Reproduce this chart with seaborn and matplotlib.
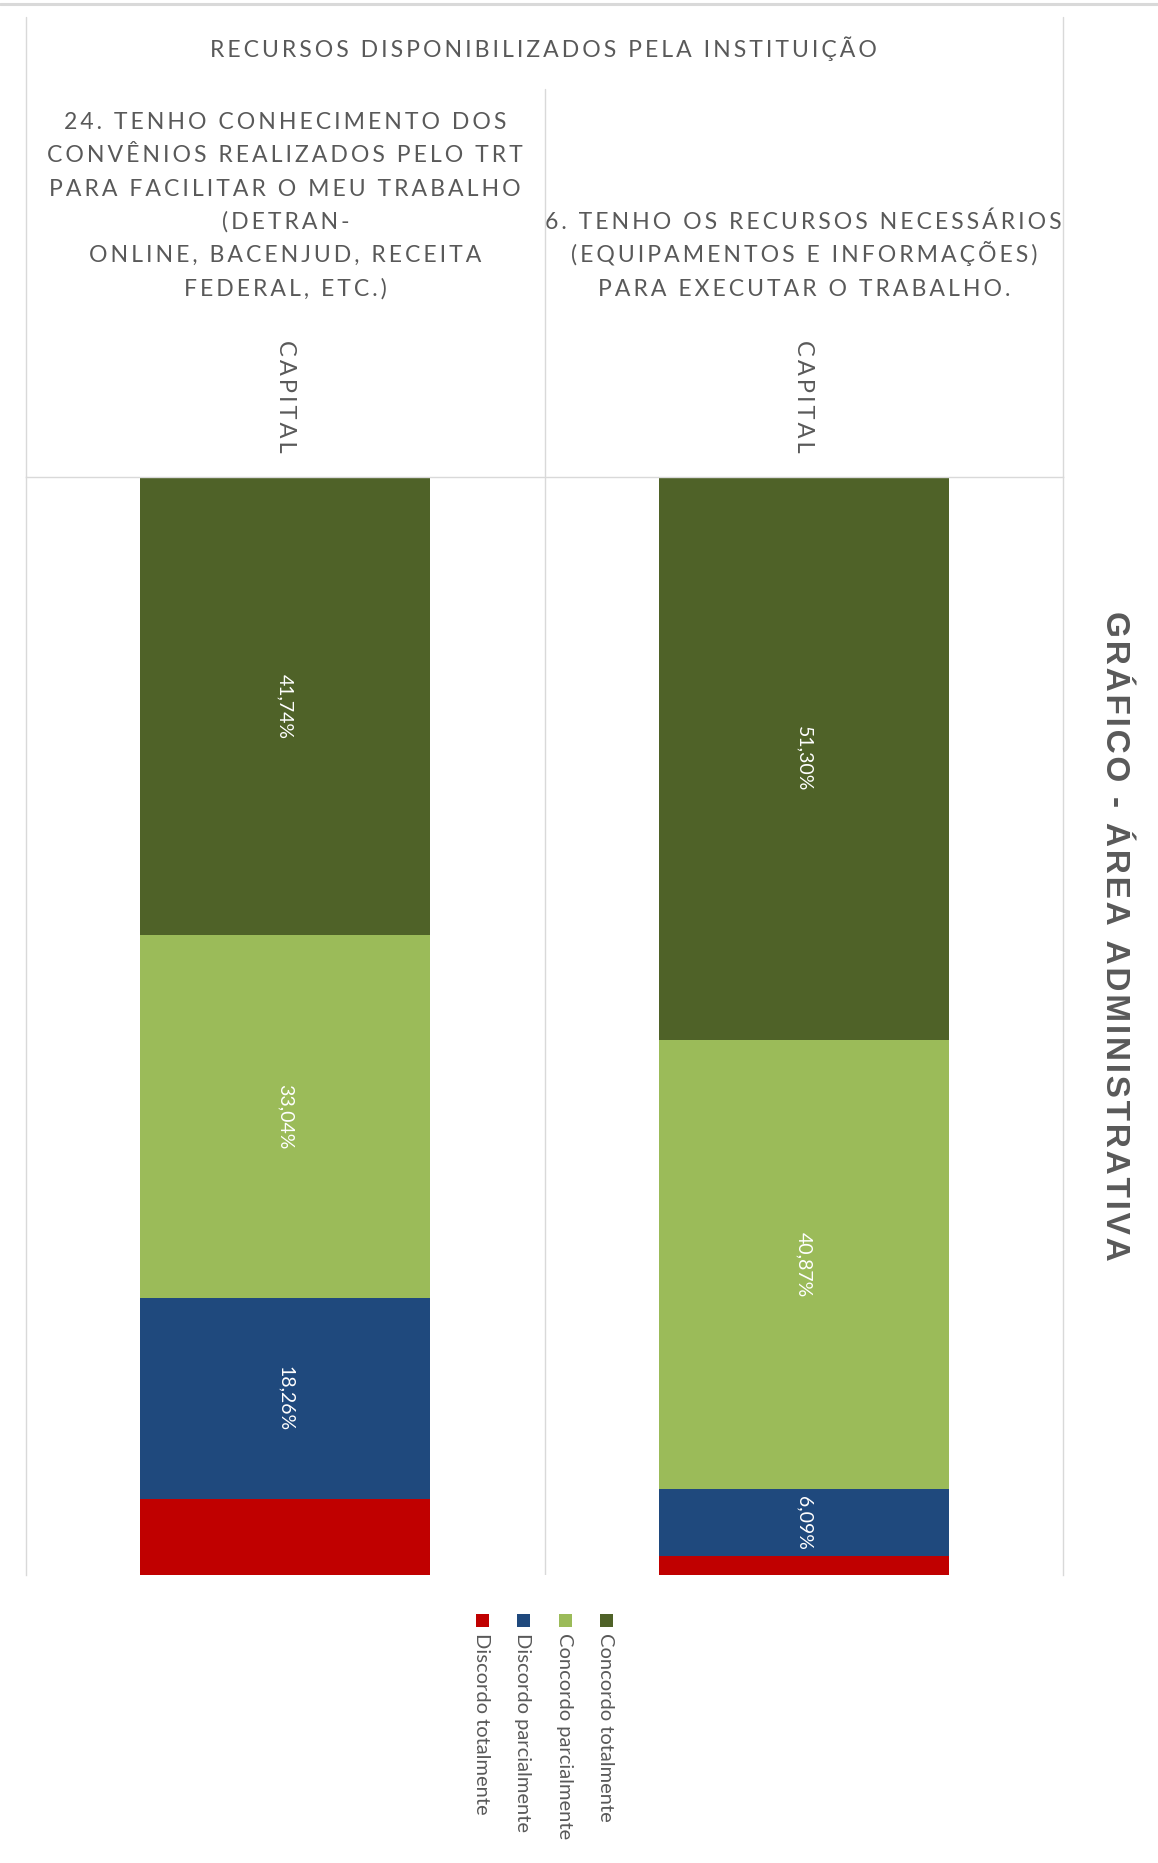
import matplotlib
matplotlib.use("Agg")
import matplotlib.pyplot as plt
import seaborn as sns
import pandas as pd
from matplotlib.lines import Line2D
from matplotlib.patches import Rectangle
from matplotlib.transforms import blended_transform_factory

sns.set_theme(style="white")
plt.rcParams["font.family"] = ["Lato", "DejaVu Sans"]

# ---- data -------------------------------------------------------------
main_title = "RECURSOS DISPONIBILIZADOS PELA INSTITUIÇÃO"
side_title = "GRÁFICO - ÁREA ADMINISTRATIVA"
questions = [
    "24. TENHO CONHECIMENTO DOS\nCONVÊNIOS REALIZADOS PELO TRT\n"
    "PARA FACILITAR O MEU TRABALHO\n(DETRAN-\nONLINE, BACENJUD, RECEITA\nFEDERAL, ETC.)",
    "6. TENHO OS RECURSOS NECESSÁRIOS\n(EQUIPAMENTOS E INFORMAÇÕES)\nPARA EXECUTAR O TRABALHO.",
]
groups = ["CAPITAL", "CAPITAL"]
series_names = ["Discordo totalmente", "Discordo parcialmente",
                "Concordo parcialmente", "Concordo totalmente"]
discordo_totalmente = [6.96, 1.74]
discordo_parcialmente = [18.26, 6.09]
concordo_parcialmente = [33.04, 40.87]
concordo_totalmente = [41.74, 51.30]
labelled = [False, True, True, True]

colors = ["#C00000", "#1F497D", "#9BBB59", "#4F6228"]
TEXT = "#595959"
GRID = "#D9D9D9"

W, H = 1158, 1863


def spread(s, gap="\u200a\u200a"):
    """Widen letter spacing by inserting hair spaces between characters."""
    return "\n".join(gap.join(line) for line in s.split("\n"))


def fy(py):
    return 1 - py / H


def fx(px):
    return px / W


fig = plt.figure(figsize=(W / 100, H / 100), dpi=100)
ax = fig.add_axes([fx(26), fy(1575), fx(1063) - fx(26), fy(477) - fy(1575)])

# ---- stacked bars -----------------------------------------------------
series = [discordo_totalmente, discordo_parcialmente,
          concordo_parcialmente, concordo_totalmente]
df = pd.DataFrame({name: vals for name, vals in zip(series_names, series)})
df["questao"] = [f"Q{i}" for i in range(len(questions))]
cum = df[series_names].cumsum(axis=1)

for name, col in reversed(list(zip(series_names, colors))):
    sns.barplot(x=df["questao"], y=cum[name], color=col, width=0.56,
                saturation=1, ax=ax, edgecolor="none", linewidth=0)

for j, (name, show) in enumerate(zip(series_names, labelled)):
    if not show:
        continue
    for i in range(len(df)):
        v = df.loc[i, name]
        mid = cum.loc[i, name] - v / 2
        ax.text(i, mid, f"{v:.2f}%".replace(".", ","), rotation=-90,
                ha="center", va="center", color="white", fontsize=14)

ax.set_xlim(-0.5, len(df) - 0.5)
ax.set_ylim(0, 100)
ax.set_xticks([])
ax.set_yticks([])
ax.set_xlabel("")
ax.set_ylabel("")
for side in ["left", "right", "top"]:
    ax.spines[side].set_color(GRID)
    ax.spines[side].set_linewidth(1)
ax.spines["bottom"].set_visible(False)
ax.axvline(0.5, color=GRID, lw=1)

# ---- header frame -----------------------------------------------------
fig.add_artist(Line2D([0, 1], [fy(4), fy(4)], color=GRID, lw=2.2))
fig.add_artist(Line2D([fx(26), fx(26)], [fy(17), fy(477)], color=GRID, lw=1))
fig.add_artist(Line2D([fx(1063), fx(1063)], [fy(17), fy(477)], color=GRID, lw=1))
fig.add_artist(Line2D([fx(545), fx(545)], [fy(89), fy(477)], color=GRID, lw=1))

fig.text(fx(543), fy(49), spread(main_title), ha="center", va="center",
         color=TEXT, fontsize=16.6)

# category headers: question text (bottom-aligned lines) and group name
trans = blended_transform_factory(ax.transData, fig.transFigure)
last_baseline, line_step = 295.5, 33.25
for i, (q, g) in enumerate(zip(questions, groups)):
    lines = q.split("\n")
    n = len(lines)
    for k, line in enumerate(lines):
        base = last_baseline - (n - 1 - k) * line_step
        ax.text(i, fy(base), spread(line), transform=trans, ha="center",
                va="baseline", color=TEXT, fontsize=16.6)
    ax.text(i, fy(396), spread(g, "\u2009"), transform=trans, ha="center",
            va="center", color=TEXT, fontsize=17, rotation=-90)

fig.text(fx(1114), fy(936), spread(side_title, "\u200a"), rotation=-90,
         ha="center", va="center", color=TEXT, fontsize=24,
         fontweight="bold", family=["Liberation Sans", "DejaVu Sans"])

# ---- legend (rotated entries) -----------------------------------------
leg_x = [482, 523, 565, 606]
for x, name, col in zip(leg_x, series_names, colors):
    fig.add_artist(Rectangle((fx(x - 6.5), fy(1627)), 13 / W, 13 / H,
                             facecolor=col, edgecolor="none",
                             transform=fig.transFigure))
    fig.text(fx(x), fy(1633), name, rotation=-90, ha="center", va="top",
             color=TEXT, fontsize=14.5)

fig.savefig("out.png", dpi=100, facecolor="white")
